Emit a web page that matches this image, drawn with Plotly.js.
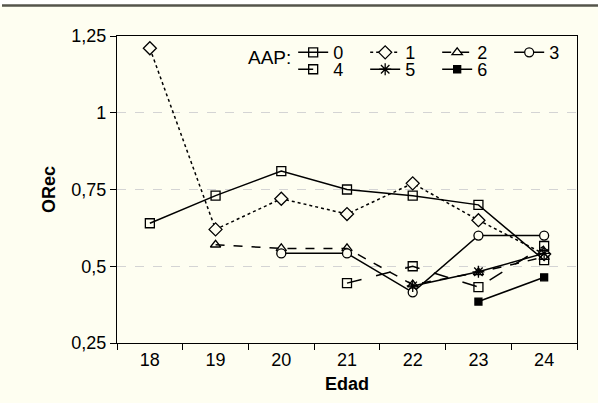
<!DOCTYPE html>
<html><head><meta charset="utf-8">
<script src="https://cdn.plot.ly/plotly-3.0.1.min.js"></script>
<style>html,body{margin:0;padding:0;background:#fff;}#chart{width:598px;height:403px;}</style>
</head><body><div id="chart"></div>
<script>
const edad = ["18","19","20","21","22","23","24"];
const aap0 = [0.64, 0.73, 0.81, 0.75, 0.73, 0.70, 0.52];
const aap1 = [1.21, 0.62, 0.72, 0.67, 0.77, 0.65, 0.54];
const aap2 = [null, 0.57, 0.558, 0.558, 0.44, 0.48, 0.53];
const aap3 = [null, null, 0.542, 0.542, 0.415, 0.60, 0.60];
const aap4 = [null, null, null, 0.445, 0.50, 0.432, 0.566];
const aap5 = [null, null, null, null, 0.436, 0.482, 0.542];
const aap6 = [null, null, null, null, null, 0.385, 0.464];
const names = ["0","1","2","3","4","5","6"];
const yTicks = [0.25, 0.5, 0.75, 1, 1.25];

const bg = "#fefef1";
const styles = [
  {dash:"solid", symbol:"square-open", size:9, color:"#000", legend:"legend"},
  {dash:"dot", symbol:"diamond", size:10, color:bg, legend:"legend"},
  {dash:"dash", symbol:"triangle-up-open", size:9, color:"#000", legend:"legend"},
  {dash:"solid", symbol:"circle", size:9, color:bg, legend:"legend"},
  {dash:"longdash", symbol:"square-open", size:9, color:"#000", legend:"legend2"},
  {dash:"solid", symbol:"asterisk-open", size:10, color:"#000", legend:"legend2"},
  {dash:"solid", symbol:"square", size:7, color:"#000", legend:"legend2"}
];
const series = [aap0, aap1, aap2, aap3, aap4, aap5, aap6];
const traces = series.map((ys, i) => ({
  type: "scatter", mode: "lines+markers", x: edad, y: ys, name: names[i],
  legend: styles[i].legend,
  connectgaps: false,
  line: {color: "#000", width: 1.5, dash: styles[i].dash},
  marker: {symbol: styles[i].symbol, size: styles[i].size, color: styles[i].color,
           line: {color: "#000", width: 1.3}}
}));

const font = {family: "Liberation Sans, Arial, sans-serif", size: 18, color: "#000"};
const layout = {
  width: 598, height: 403,
  paper_bgcolor: bg, plot_bgcolor: bg,
  separators: ",.",
  font: font,
  margin: {l: 117, r: 21, t: 36, b: 60},
  showlegend: true,
  xaxis: {
    type: "category", range: [-0.5, 6.5], tickson: "boundaries",
    ticks: "outside", ticklen: 6, tickcolor: "#000", tickwidth: 1,
    showline: true, linecolor: "#000", linewidth: 1.3, mirror: true,
    showgrid: false, zeroline: false,
    title: {text: "<b>Edad</b>", font: {size: 18}, standoff: 8}
  },
  yaxis: {
    range: [0.25, 1.25], tickvals: yTicks,
    ticks: "outside", ticklen: 6, tickcolor: "#000",
    showline: true, linecolor: "#000", linewidth: 1.3, mirror: true,
    showgrid: true, gridcolor: "#d4d4d4", griddash: "dash", gridwidth: 1.2,
    zeroline: false,
    title: {text: "<b>ORec</b>", font: {size: 18}, standoff: 10}
  },
  legend: {
    orientation: "h", x: 0.383, y: 1.006, xanchor: "left", yanchor: "top",
    bgcolor: "rgba(0,0,0,0)", borderwidth: 0, entrywidth: 27, entrywidthmode: "pixels",
    font: {size: 18}, itemwidth: 30
  },
  legend2: {
    orientation: "h", x: 0.383, y: 0.951, xanchor: "left", yanchor: "top",
    bgcolor: "rgba(0,0,0,0)", borderwidth: 0, entrywidth: 27, entrywidthmode: "pixels",
    font: {size: 18}, itemwidth: 30
  },
  annotations: [{
    text: "AAP:", xref: "paper", yref: "paper", x: 0.28, y: 0.93,
    xanchor: "left", yanchor: "middle", showarrow: false, font: {size: 19}
  }],
  shapes: [
    {type: "rect", xref: "paper", yref: "paper", x0: -0.3, x1: 1.1, y0: 1.099, y1: 1.2,
     fillcolor: "#ffffff", line: {width: 0}, layer: "below"},
    {type: "line", xref: "paper", yref: "paper", x0: -0.25, x1: 1.05, y0: 1.0995, y1: 1.0995,
     line: {color: "#55554b", width: 2.5}}
  ]
};
Plotly.newPlot("chart", traces, layout, {displayModeBar: false, responsive: false});
</script></body></html>
